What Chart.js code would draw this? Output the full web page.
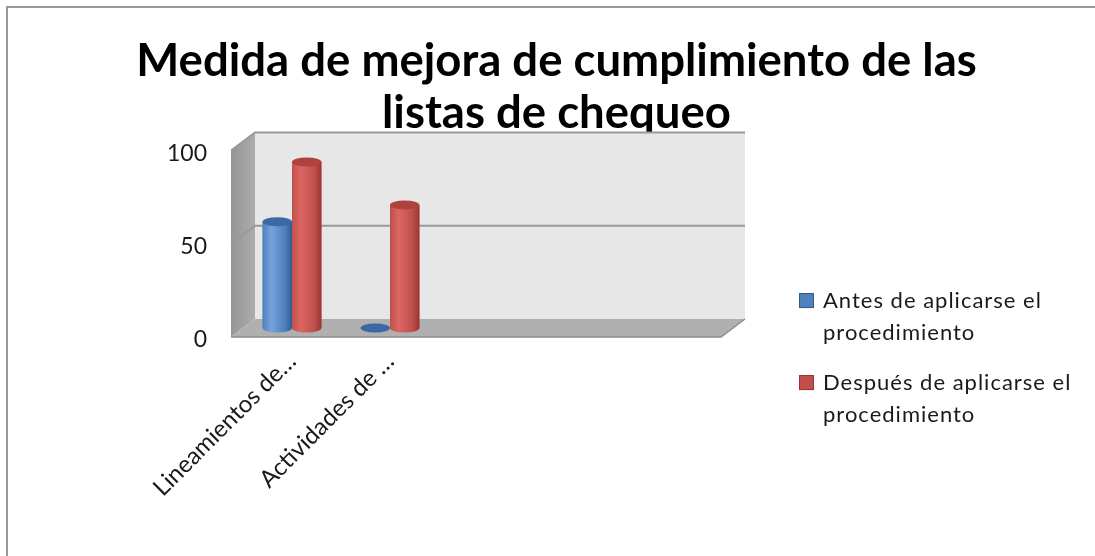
<!DOCTYPE html>
<html>
<head>
<meta charset="utf-8">
<script src="https://cdn.jsdelivr.net/npm/chart.js@4.4.0/dist/chart.umd.min.js"></script>
<style>
    html, body { margin: 0; padding: 0; background: #fff; }
    #wrap { width: 1095px; height: 556px; }
</style>
</head>
<body>
<div id="wrap"><canvas id="mejoraChart" width="1095" height="556"></canvas></div>
<script>
    const categories = ['Lineamientos de…', 'Actividades de …', '', '', ''];
    const antesValues = [57, 0, null, null, null];
    const despuesValues = [89, 66, null, null, null];
    const yTicks = [0, 50, 100];
    const seriesNames = ['Antes de aplicarse el procedimiento', 'Después de aplicarse el procedimiento'];
    const titleLines = ['Medida de mejora de cumplimiento de las', 'listas de chequeo'];

    const FONT = 'Lato, "Open Sans", sans-serif';
    const depthX = 12, depthY = 9;

    const palette = [
        { base: '#4f81bd', light: '#74a2dc', dark: '#2f5b92', cap: '#3c69a5' },
        { base: '#c0504d', light: '#dc6662', dark: '#9c3532', cap: '#ad423f' }
    ];

    // walls, floor and gridlines of the 3D box
    const box3d = {
        id: 'box3d',
        beforeDraw(chart) {
            const ctx = chart.ctx;
            ctx.save();
            ctx.fillStyle = '#fff';
            ctx.fillRect(0, 0, chart.width, chart.height);
            ctx.strokeStyle = '#9a9a9a';
            ctx.lineWidth = 2;
            ctx.strokeRect(7, 7, chart.width + 20, chart.height + 20);
            ctx.restore();
        },
        beforeDatasetsDraw(chart) {
            const { ctx, chartArea: a, scales } = chart;
            const y = scales.y;
            ctx.save();

            // back wall
            ctx.fillStyle = '#e7e7e7';
            ctx.fillRect(a.left + depthX, a.top - depthY, a.right - a.left, a.bottom - a.top);

            // side wall
            const sg = ctx.createLinearGradient(a.left - depthX, 0, a.left + depthX, 0);
            sg.addColorStop(0, '#969696');
            sg.addColorStop(1, '#acacac');
            ctx.fillStyle = sg;
            ctx.beginPath();
            ctx.moveTo(a.left - depthX, a.top + depthY);
            ctx.lineTo(a.left + depthX, a.top - depthY);
            ctx.lineTo(a.left + depthX, a.bottom - depthY);
            ctx.lineTo(a.left - depthX, a.bottom + depthY);
            ctx.closePath();
            ctx.fill();

            // floor
            ctx.fillStyle = '#b0b0b0';
            ctx.beginPath();
            ctx.moveTo(a.left - depthX, a.bottom + depthY);
            ctx.lineTo(a.left + depthX, a.bottom - depthY);
            ctx.lineTo(a.right + depthX, a.bottom - depthY);
            ctx.lineTo(a.right - depthX, a.bottom + depthY);
            ctx.closePath();
            ctx.fill();
            ctx.strokeStyle = '#8c8c8c';
            ctx.lineWidth = 1.5;
            ctx.beginPath();
            ctx.moveTo(a.left - depthX, a.bottom + depthY);
            ctx.lineTo(a.right - depthX, a.bottom + depthY);
            ctx.lineTo(a.right + depthX, a.bottom - depthY);
            ctx.stroke();

            // gridlines on the walls
            ctx.strokeStyle = '#999999';
            ctx.lineWidth = 2;
            y.ticks.forEach(t => {
                if (t.value === 0) return;
                const py = y.getPixelForValue(t.value);
                ctx.beginPath();
                ctx.moveTo(a.left - depthX, py + depthY);
                ctx.lineTo(a.left + depthX, py - depthY);
                ctx.lineTo(a.right + depthX, py - depthY);
                ctx.stroke();
            });
            ctx.restore();
        },
        afterDatasetsDraw(chart) {
            const ctx = chart.ctx;
            ctx.save();
            chart.data.datasets.forEach((ds, di) => {
                const meta = chart.getDatasetMeta(di);
                const col = palette[di];
                meta.data.forEach((bar, i) => {
                    if (ds.data[i] == null) return;
                    const p = bar.getProps(['x', 'y', 'base', 'width'], true);
                    drawCylinder(ctx, p.x, p.y, p.base, p.width, col);
                });
            });
            ctx.restore();
        },
        afterDraw(chart) {
            // legend on the right, wrapped like the original
            const { ctx, chartArea: a } = chart;
            const boxX = a.right + 66;
            const textX = boxX + 24;
            const maxW = chart.width - textX - 8;
            let ly = a.top + 159;
            ctx.save();
            ctx.font = '22px ' + FONT;
            ctx.letterSpacing = '1px';
            ctx.textBaseline = 'middle';
            chart.data.datasets.forEach((ds, di) => {
                const lines = wrapText(ctx, ds.label, maxW);
                ctx.fillStyle = palette[di].base;
                ctx.fillRect(boxX, ly - 7.5, 15, 15);
                ctx.strokeStyle = palette[di].dark;
                ctx.lineWidth = 1;
                ctx.strokeRect(boxX + 0.5, ly - 7, 14, 14);
                ctx.fillStyle = '#1a1a1a';
                lines.forEach((ln, k) => ctx.fillText(ln, textX, ly + k * 32));
                ly += lines.length * 32 + 18;
            });
            ctx.restore();
        }
    };

    function wrapText(ctx, text, maxW) {
        const words = text.split(' ');
        const lines = [];
        let cur = '';
        words.forEach(w => {
            const test = cur ? cur + ' ' + w : w;
            if (ctx.measureText(test).width > maxW && cur) {
                lines.push(cur);
                cur = w;
            } else {
                cur = test;
            }
        });
        if (cur) lines.push(cur);
        return lines;
    }

    function drawCylinder(ctx, x, top, base, w, col) {
        const rx = w / 2, ry = 4.5;
        const l = x - rx, r = x + rx;
        if (Math.abs(base - top) < 0.5) {
            ctx.fillStyle = col.cap;
            ctx.beginPath();
            ctx.ellipse(x, base, rx, ry, 0, 0, Math.PI * 2);
            ctx.fill();
            return;
        }
        const g = ctx.createLinearGradient(l, 0, r, 0);
        g.addColorStop(0, col.base);
        g.addColorStop(0.3, col.light);
        g.addColorStop(0.75, col.base);
        g.addColorStop(1, col.dark);
        ctx.fillStyle = g;
        ctx.beginPath();
        ctx.moveTo(l, top);
        ctx.lineTo(l, base);
        ctx.ellipse(x, base, rx, ry, 0, Math.PI, 0, true);
        ctx.lineTo(r, top);
        ctx.closePath();
        ctx.fill();
        ctx.fillStyle = col.cap;
        ctx.beginPath();
        ctx.ellipse(x, top, rx, ry, 0, 0, Math.PI * 2);
        ctx.fill();
    }

    const ctxBar = document.getElementById('mejoraChart').getContext('2d');
    const mejoraChart = new Chart(ctxBar, {
        type: 'bar',
        data: {
            labels: categories,
            datasets: [{
                label: seriesNames[0],
                data: antesValues,
                backgroundColor: palette[0].base
            }, {
                label: seriesNames[1],
                data: despuesValues,
                backgroundColor: palette[1].base
            }]
        },
        options: {
            responsive: false,
            animation: false,
            layout: {
                padding: { left: 18, right: 0, top: 0, bottom: 0 }
            },
            categoryPercentage: 0.6,
            barPercentage: 1.0,
            plugins: {
                legend: { display: false },
                tooltip: { enabled: false },
                title: {
                    display: true,
                    text: titleLines,
                    color: '#000',
                    font: { family: FONT, size: 45.5, weight: 'bold', lineHeight: 1.14 },
                    padding: { top: 35.5, bottom: 2.3 }
                }
            },
            scales: {
                x: {
                    grid: { display: false, drawTicks: false },
                    border: { display: false },
                    ticks: {
                        autoSkip: false,
                        maxRotation: 45,
                        minRotation: 45,
                        padding: 19,
                        color: '#1a1a1a',
                        font: { family: FONT, size: 24 }
                    },
                    afterFit: (scale) => { scale.height = 228; }
                },
                y: {
                    min: 0,
                    max: 100,
                    afterBuildTicks: (scale) => {
                        scale.ticks = yTicks.map(v => ({ value: v }));
                    },
                    grid: { display: false, drawTicks: false },
                    border: { display: false },
                    ticks: {
                        padding: 36,
                        labelOffset: 12,
                        color: '#1a1a1a',
                        font: { family: FONT, size: 23 }
                    },
                    afterFit: (scale) => { scale.width = 225; }
                },
                // room on the right for the legend
                side: {
                    position: 'right',
                    grid: { display: false, drawTicks: false },
                    border: { display: false },
                    ticks: { display: false },
                    afterFit: (scale) => { scale.width = 362; }
                }
            }
        },
        plugins: [box3d]
    });
</script>
</body>
</html>
